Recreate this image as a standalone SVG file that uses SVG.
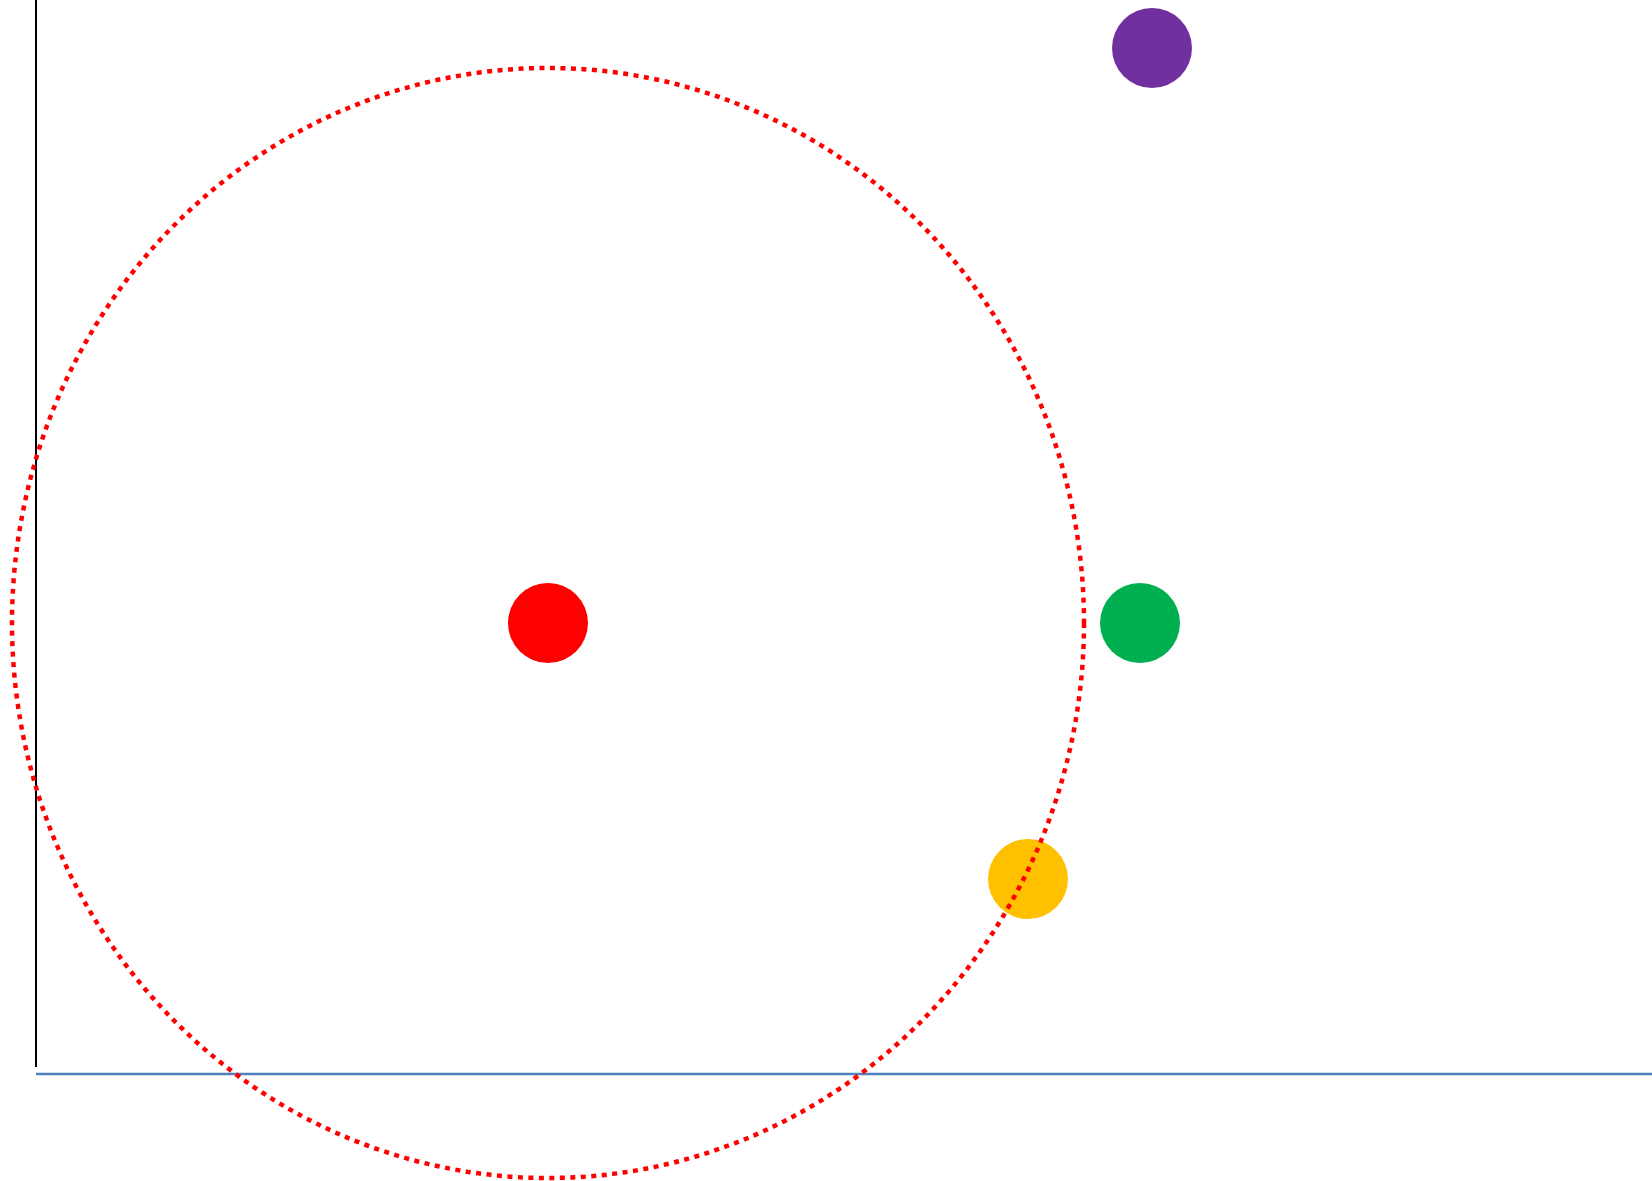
<svg xmlns="http://www.w3.org/2000/svg" width="1652" height="1181" viewBox="0 0 1652 1181">
<style>
.dot{stroke:none}
.orbit{fill:none;stroke:#FF0000;stroke-width:4.5;stroke-dasharray:5 5.5}
</style>
<rect width="1652" height="1181" fill="#FFFFFF"/>
<g id="axes">
<line x1="36" y1="0" x2="36" y2="1067" stroke="#000000" stroke-width="2"/>
<line x1="36" y1="1074" x2="1652" y2="1074" stroke="#4F81BD" stroke-width="2.5"/>
</g>
<g id="node-red"><circle class="dot" cx="548" cy="623" r="40" fill="#FF0000"/></g>
<g id="node-green"><circle class="dot" cx="1140" cy="623" r="40" fill="#00B050"/></g>
<g id="node-purple"><circle class="dot" cx="1152" cy="48" r="40" fill="#7030A0"/></g>
<g id="node-yellow"><circle class="dot" cx="1028" cy="879" r="40" fill="#FFC000"/></g>
<g id="connectors">
<ellipse class="orbit" cx="548" cy="623" rx="536" ry="555"/>
</g>
</svg>
